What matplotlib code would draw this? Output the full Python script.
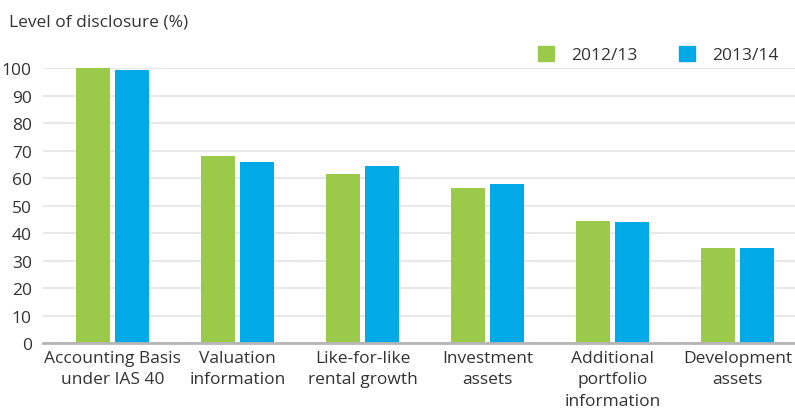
import matplotlib
matplotlib.use("Agg")
import matplotlib.pyplot as plt
import numpy as np
from matplotlib.patches import Patch

GREEN = "#9bc94a"
BLUE = "#00aae6"
TEXT = "#333333"

categories = [
    "Accounting Basis\nunder IAS 40",
    "Valuation\ninformation",
    "Like-for-like\nrental growth",
    "Investment\nassets",
    "Additional\nportfolio\ninformation",
    "Development\nassets",
]
series_names = ["2012/13", "2013/14"]
values_2012 = [100, 68, 61.5, 56.5, 44.5, 34.5]
values_2013 = [99.5, 66, 64.5, 58, 44, 34.5]
yticks = [0, 10, 20, 30, 40, 50, 60, 70, 80, 90, 100]

plt.rcParams["font.family"] = ["Open Sans", "DejaVu Sans"]

fig = plt.figure(figsize=(7.95, 4.14), dpi=100)
ax = fig.add_axes([0.054, 0.169, 0.946, 0.664])

x = np.arange(len(categories))
w = 0.272
off = 0.156
ax.bar(x - off, values_2012, width=w, color=GREEN, zorder=3, clip_on=False)
ax.bar(x + off, values_2013, width=w, color=BLUE, zorder=3, clip_on=False)

ax.set_xlim(-0.56, 5.46)
ax.set_ylim(0, 100)
ax.set_yticks(yticks)
ax.set_yticklabels([str(t) for t in yticks], fontsize=12.5, color=TEXT)
ax.set_xticks(x)
ax.set_xticklabels(categories, fontsize=12.5, color=TEXT, linespacing=1.45)
ax.tick_params(axis="both", length=0)
ax.tick_params(axis="y", pad=8)
ax.tick_params(axis="x", pad=5)

ax.grid(axis="y", color="#e8e8e8", linewidth=1.5, zorder=0)
ax.set_axisbelow(True)
for s in ["top", "right", "left"]:
    ax.spines[s].set_visible(False)
ax.spines["bottom"].set_color("#b5b5b5")
ax.spines["bottom"].set_linewidth(2)
ax.spines["bottom"].set_zorder(4)

fig.text(0.011, 0.946, "Level of disclosure (%)", fontsize=12.5, color=TEXT,
         ha="left", va="center")

handles = [Patch(color=GREEN), Patch(color=BLUE)]
fig.legend(handles, series_names, loc="center", bbox_to_anchor=(0.828, 0.865),
           ncol=2, frameon=False, fontsize=12.5, labelcolor=TEXT,
           handlelength=0.9, handleheight=0.9, handletextpad=1.0,
           columnspacing=2.4)

fig.savefig("out.png", dpi=100)
